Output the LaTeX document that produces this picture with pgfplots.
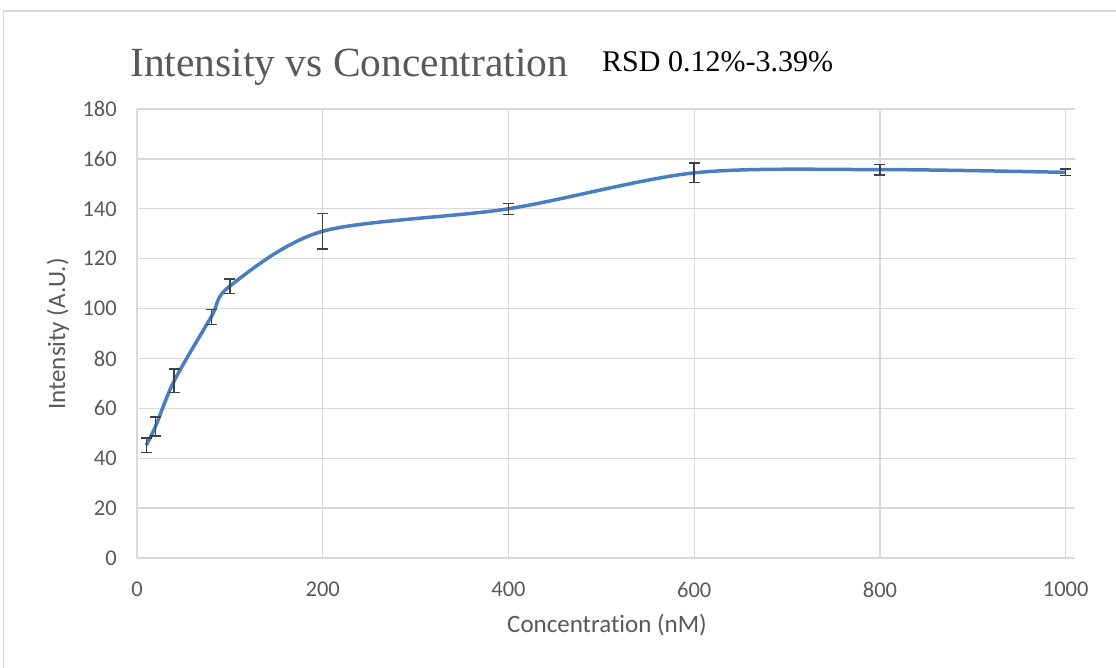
\documentclass[border=0pt]{standalone}
\usepackage{pgfplots}
\pgfplotsset{compat=1.18}
\usepackage{fontspec}
\setmainfont{Carlito}[Ligatures=NoCommon]
\newfontfamily\seriffont{Liberation Serif}

\definecolor{txtgray}{HTML}{595959}
\definecolor{gridgray}{HTML}{D9D9D9}
\definecolor{linblue}{RGB}{74,126,193}
\definecolor{errgray}{HTML}{404040}

\begin{document}
\begin{tikzpicture}[x=1pt,y=1pt]
\useasboundingbox (0,0) rectangle (1116,667);
% chart area frame
\draw[gridgray, line width=1.5pt] (3.5,-10) -- (3.5,656) -- (1130,656);

\begin{axis}[
  at={(137pt,109pt)}, anchor=south west,
  scale only axis,
  width=938pt, height=449pt,
  xmin=0, xmax=1010, ymin=0, ymax=180,
  xtick={0,200,...,1000},
  ytick={0,20,...,180},
  grid=major,
  major grid style={gridgray, line width=1.3pt},
  axis line style={draw=none},
  tick style={draw=none},
  clip=false,
  /pgf/number format/assume math mode=true,
  tick label style={font=\fontsize{22.5}{27}\selectfont, text=txtgray, inner sep=0pt},
  xticklabel style={anchor=north},
  yticklabel style={anchor=east},
  xticklabel shift=24pt,
  yticklabel shift=20pt,
  /pgf/number format/1000 sep={},
]
\addplot[linblue, line width=3.5pt, smooth, tension=0.5,
  error bars/.cd, y dir=both, y explicit,
  error bar style={errgray, line width=1.5pt},
  error mark options={errgray, line width=1.5pt, rotate=90, mark size=5.5pt}]
  table[x=c, y=i, y error=e] {
  c     i      e
  10    45.2   3.0
  20    52.8   3.8
  40    71.0   4.7
  80    96.7   3.0
  100   109.0  2.9
  200   131.0  7.2
  400   140.0  2.2
  600   154.4  3.9
  800   155.7  2.1
  1000  154.6  1.3
  };
\end{axis}

% titles and axis titles
\node[anchor=base west, inner sep=0pt, text=txtgray, font=\seriffont\fontsize{41.5}{48}\selectfont] at (130,590) {Intensity vs Concentration};
\node[anchor=base west, inner sep=0pt, text=black, font=\seriffont\fontsize{30}{36}\selectfont] at (602,595) {RSD 0.12\%-3.39\%};
\node[anchor=center, inner sep=0pt, text=txtgray, font=\fontsize{25}{30}\selectfont] at (607,42) {Concentration (nM)};
\node[anchor=center, inner sep=0pt, rotate=90, text=txtgray, font=\fontsize{25}{30}\selectfont] at (58,333) {Intensity (A.U.)};
\end{tikzpicture}
\end{document}
